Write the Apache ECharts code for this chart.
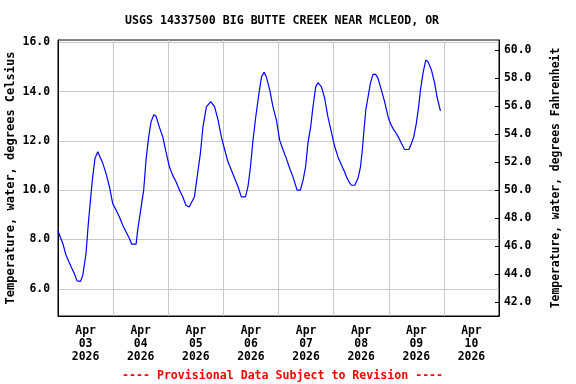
<!DOCTYPE html>
<html>
<head>
<meta charset="utf-8">
<script src="https://cdn.jsdelivr.net/npm/echarts@6/dist/echarts.min.js"></script>
<style>
html,body{margin:0;padding:0;background:#fff;}
#c{width:576px;height:384px;}
</style>
</head>
<body>
<div id="c"></div>
<script>
// ---- data ----
const titleText = 'USGS 14337500 BIG BUTTE CREEK NEAR MCLEOD, OR';
const footerText = '---- Provisional Data Subject to Revision ----';
const month = 'Apr';
const year = '2026';
const days = ['03', '04', '05', '06', '07', '08', '09', '10'];
// hours since Apr 03 00:00
const hours = [0, 2.1, 3.5, 5.7, 7.1, 8.3, 9.8, 10.8, 12.2, 13.2, 14.4, 15.1, 16.1, 17.3, 18.0, 19.5, 20.9, 22.4, 23.8,
  25.3, 26.7, 28.2, 29.6, 31.1, 32.1, 34.0, 34.7, 36.1, 37.3, 38.3, 39.4, 40.5, 41.7, 42.7, 44.1, 45.6, 47.0, 48.5,
  49.9, 51.4, 52.9, 54.3, 55.7, 57.1, 59.4, 60.8, 62.0, 63.1, 64.6, 66.5, 68.2, 69.7, 71.1, 72.6, 74.0, 75.5, 76.9,
  78.4, 79.8, 81.6, 82.7, 83.8, 84.9, 86.1, 87.5, 88.6, 89.7, 90.7, 92.2, 93.6, 95.1, 96.5, 98.0, 99.4, 100.9, 102.3,
  104.1, 105.5, 106.7, 107.8, 108.8, 110.0, 111.0, 112.2, 113.2, 114.7, 116.1, 117.5, 119.0, 120.5, 121.9, 123.4,
  124.8, 125.6, 126.7, 127.7, 129.2, 130.6, 131.7, 132.5, 133.1, 134.0, 135.0, 136.0, 137.1, 138.3, 139.3, 140.8,
  142.2, 143.7, 144.7, 145.8, 147.3, 148.5, 149.5, 150.9, 152.8, 153.9, 154.9, 156.0, 157.0, 157.8, 158.9, 160.1,
  161.1, 162.6, 164.0, 165.0, 166.5];
const tempC = [8.34, 7.84, 7.36, 6.89, 6.62, 6.32, 6.30, 6.55, 7.43, 8.65, 9.87, 10.54, 11.29, 11.56, 11.49, 11.09, 10.68, 10.14, 9.46,
  9.19, 8.92, 8.58, 8.31, 8.04, 7.81, 7.81, 8.38, 9.26, 10.0, 11.2, 12.10, 12.77, 13.06, 13.0, 12.57, 12.17, 11.56, 10.95,
  10.61, 10.34, 10.0, 9.73, 9.39, 9.32, 9.73, 10.68, 11.5, 12.57, 13.38, 13.59, 13.38, 12.84, 12.17, 11.63, 11.15, 10.81, 10.48,
  10.14, 9.73, 9.73, 10.14, 10.95, 12.03, 12.98, 13.93, 14.6, 14.78, 14.6, 14.06, 13.38, 12.84, 12.03, 11.63, 11.29, 10.88, 10.54,
  10.0, 10.0, 10.41, 10.95, 11.90, 12.57, 13.38, 14.19, 14.36, 14.19, 13.73, 12.98, 12.37, 11.76, 11.35, 11.02,
  10.74, 10.54, 10.34, 10.2, 10.2, 10.48, 10.95, 11.63, 12.30, 13.25, 13.79, 14.33, 14.7, 14.7, 14.54, 14.06,
  13.59, 12.98, 12.71, 12.51, 12.30, 12.10, 11.90, 11.65, 11.65, 11.90, 12.17, 12.71, 13.38, 14.06, 14.74, 15.28,
  15.21, 14.87, 14.33, 13.79, 13.22];
const celsiusTicks = [6, 8, 10, 12, 14, 16];
const fahrenheitTicks = [42, 44, 46, 48, 50, 52, 54, 56, 58, 60];

const FONT = 'DejaVu Sans Mono';
const chart = echarts.init(document.getElementById('c'), null, {renderer: 'canvas'});
const catLabels = days.map(d => month + '\n' + d + '\n' + year);

chart.setOption({
  animation: false,
  backgroundColor: '#fff',
  title: [
    {text: titleText, left: 120, top: 10,
     textStyle: {fontFamily: FONT, fontWeight: 'bold', fontSize: 11.6, color: '#000'}},
    {text: footerText, left: 117, top: 365,
     textStyle: {fontFamily: FONT, fontWeight: 'bold', fontSize: 11.6, color: '#ff0000'}}
  ],
  grid: {left: 58, top: 40, width: 441, height: 276, show: true, borderColor: '#000', borderWidth: 1,
         containLabel: false, outerBoundsMode: 'none'},
  xAxis: [
    {type: 'category', data: catLabels, boundaryGap: true, position: 'bottom',
     axisLine: {lineStyle: {color: '#000', width: 1}},
     axisTick: {show: false},
     splitLine: {show: true, interval: 0, lineStyle: {color: '#c8c8c8', width: 1}},
     axisLabel: {interval: 0, margin: 9, lineHeight: 12.7, fontFamily: FONT, fontWeight: 'bold', fontSize: 11.4, color: '#000'}},
    {type: 'value', min: 0, max: 192, show: false}
  ],
  yAxis: [
    {type: 'value', position: 'left', min: 4.895, max: 16.093,
     name: 'Temperature, water, degrees Celsius', nameLocation: 'middle', nameRotate: 90, nameGap: 41,
     nameMoveOverlap: false,
     nameTextStyle: {fontFamily: FONT, fontWeight: 'bold', fontSize: 12, color: '#000'},
     axisLine: {show: true, lineStyle: {color: '#000'}},
     axisTick: {show: false, customValues: celsiusTicks},
     splitLine: {show: true, lineStyle: {color: '#c8c8c8', width: 1}},
     axisLabel: {customValues: celsiusTicks, margin: 8, fontFamily: FONT, fontWeight: 'bold', fontSize: 11.4, color: '#000',
       formatter: v => v.toFixed(1)}},
    {type: 'value', position: 'right', min: 41.02, max: 60.714,
     name: 'Temperature, water, degrees Fahrenheit', nameLocation: 'middle', nameRotate: 90, nameGap: 52,
     nameMoveOverlap: false,
     nameTextStyle: {fontFamily: FONT, fontWeight: 'bold', fontSize: 11.4, color: '#000'},
     axisLine: {show: true, lineStyle: {color: '#000'}},
     axisTick: {show: true, inside: true, length: 4, customValues: fahrenheitTicks, lineStyle: {color: '#000'}},
     splitLine: {show: false},
     axisLabel: {customValues: fahrenheitTicks, margin: 5, fontFamily: FONT, fontWeight: 'bold', fontSize: 11.4, color: '#000',
       formatter: v => v.toFixed(1)}}
  ],
  series: [{
    type: 'line', xAxisIndex: 1, yAxisIndex: 0,
    data: hours.map((h, i) => [h, tempC[i]]),
    showSymbol: false, symbol: 'none',
    lineStyle: {color: '#0000ff', width: 1.2}
  }]
});
</script>
</body>
</html>
